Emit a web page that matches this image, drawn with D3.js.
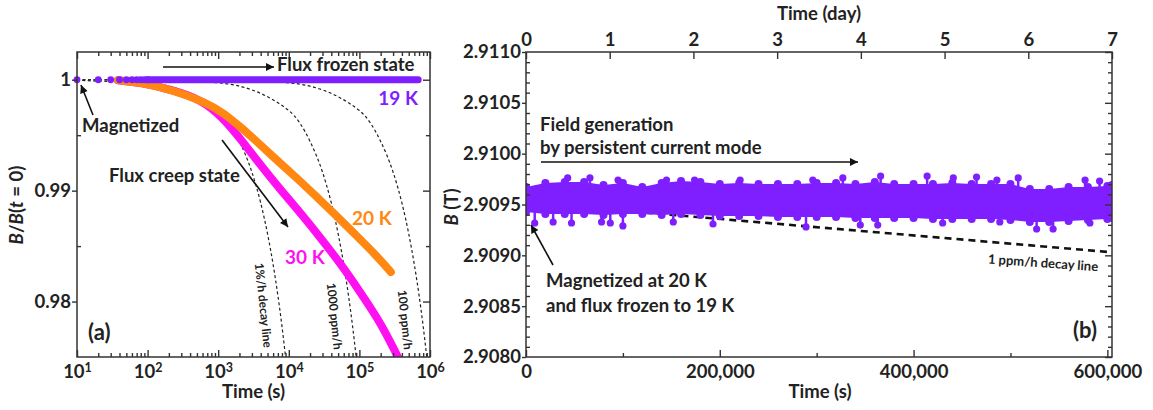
<!DOCTYPE html>
<html>
<head>
<meta charset="utf-8">
<title>Flux creep and persistent field</title>
<script src="https://d3js.org/d3.v7.min.js"></script>
<style>
body {margin: 0; background: #fff;}
svg {font-family: Lato, "Open Sans", sans-serif; font-weight: bold;}
.axis path {display: none;}
.axis line {stroke: #333; stroke-width: 1.4;}
.axis text {font-size: 18.5px; fill: #222; font-family: Lato, sans-serif; font-weight: bold;}
.frame {fill: none; stroke: #333; stroke-width: 1.5;}
</style>
</head>
<body>
<script>
// ---- panel (a) data ----
const decadeTicks = [10, 100, 1000, 10000, 100000, 1000000]
const decadeExp = ["1", "2", "3", "4", "5", "6"]
const ratioTicks = [0.98, 0.99, 1]
const ratioMinor = [0.985, 0.995]

// 19 K, first separate dots then the flat dense run
const k19DotTime = [10, 20, 30, 40, 50, 60, 70, 80, 90, 100]
const k19DotB = [1, 1, 1, 1, 1, 1, 1, 1, 1, 1]
const k19Time = [100, 1000, 10000, 100000, 680000]
const k19B = [1, 1, 1, 1, 1]

const k20Time = [38, 80, 230, 700, 1190, 2070, 3600, 6500, 12500, 24000, 46000, 89000, 171000, 279000]
const k20B = [0.99995, 0.99975, 0.99907, 0.99790, 0.99700, 0.99574, 0.99438, 0.99285, 0.99123, 0.98952, 0.98780, 0.98600, 0.98420, 0.98266]

const k30Time = [38, 80, 230, 560, 1186, 2065, 3970, 7660, 14700, 28300, 54450, 104700, 201400, 350750]
const k30B = [0.99995, 0.99975, 0.99907, 0.99826, 0.99655, 0.99466, 0.99231, 0.99006, 0.98798, 0.98573, 0.98339, 0.98077, 0.97807, 0.97500]

// decay reference lines (1 %/h, 1000 ppm/h, 100 ppm/h)
const decayB = [1, 0.999972, 0.99972, 0.99722, 0.99444, 0.99167, 0.98889, 0.98611, 0.98333, 0.98056, 0.97778, 0.975]
const decay1pTime = [10, 10, 100, 1000, 2000, 3000, 4000, 5000, 6000, 7000, 8000, 9000]
const decay1000Time = [10, 100, 1000, 10000, 20000, 30000, 40000, 50000, 60000, 70000, 80000, 90000]
const decay100Time = [10, 1000, 10000, 100000, 200000, 300000, 400000, 500000, 600000, 700000, 800000, 900000]

// ---- panel (b) data ----
const secTicks = [0, 200000, 400000, 600000]
const secMinor = [100000, 300000, 500000]
const dayTicks = [0, 1, 2, 3, 4, 5, 6, 7]
const fieldTicks = [2.908, 2.9085, 2.909, 2.9095, 2.91, 2.9105, 2.911]
const fieldMinor = [2.9081, 2.9082, 2.9083, 2.9084, 2.9086, 2.9087, 2.9088, 2.9089, 2.9091, 2.9092, 2.9093, 2.9094,
  2.9096, 2.9097, 2.9098, 2.9099, 2.9101, 2.9102, 2.9103, 2.9104, 2.9106, 2.9107, 2.9108, 2.9109]

// band of the measured field: upper and lower edge read every 20,000 s
const bandTime = [0, 20000, 40000, 60000, 80000, 100000, 120000, 140000, 160000, 180000, 200000, 220000, 240000, 260000,
  280000, 300000, 320000, 340000, 360000, 380000, 400000, 420000, 440000, 460000, 480000, 500000, 520000, 540000,
  560000, 580000, 600000, 604800]
const bandHigh = [2.909672, 2.909711, 2.909721, 2.909721, 2.909692, 2.909711, 2.909672, 2.909711, 2.909731, 2.909721,
  2.909702, 2.909711, 2.909702, 2.909702, 2.909702, 2.909711, 2.909711, 2.909702, 2.909721, 2.909702, 2.909702,
  2.909702, 2.909711, 2.909702, 2.909702, 2.909702, 2.909652, 2.909652, 2.909672, 2.909672, 2.909682, 2.909692]
const bandLow = [2.909426, 2.909407, 2.909407, 2.909407, 2.909397, 2.909407, 2.909407, 2.909397, 2.909407, 2.909397,
  2.909387, 2.909387, 2.909387, 2.909377, 2.909377, 2.909377, 2.909377, 2.909367, 2.909367, 2.909367, 2.909367,
  2.909357, 2.909357, 2.909357, 2.909357, 2.909348, 2.909328, 2.909328, 2.909338, 2.909348, 2.909357, 2.909367]
// single points sticking out of the band
const spikeHighTime = [43000, 66000, 95000, 145000, 174000, 221000, 296000, 327000, 366000, 414000, 441000, 465000, 486000, 508000, 577000, 592000]
const spikeHighB = [2.909761, 2.909761, 2.909741, 2.909741, 2.909741, 2.909741, 2.909741, 2.909761, 2.909780, 2.909780, 2.909761, 2.909770, 2.909741, 2.909761, 2.909741, 2.909731]
const spikeLowTime = [9000, 28000, 47000, 78000, 87000, 100000, 152000, 193000, 289000, 345000, 363000, 430000, 489000, 527000, 544000, 582000]
const spikeLowB = [2.909318, 2.909328, 2.909318, 2.909328, 2.909318, 2.909289, 2.909328, 2.909308, 2.909279, 2.909298, 2.909298, 2.909318, 2.909328, 2.909259, 2.909259, 2.909318]

const ppmLineTime = [0, 604800]
const ppmLineB = [2.90952, 2.90903]

const purple = "#7f1fff", orange = "#ff8712", magenta = "#ff10f0"

const svg = d3.select("body").append("svg")
  .attr("width", 1153).attr("height", 410)

const defs = svg.append("defs")
defs.append("marker").attr("id", "ah")
  .attr("viewBox", "0 0 10 10").attr("refX", 10).attr("refY", 5)
  .attr("markerWidth", 12).attr("markerHeight", 8)
  .attr("markerUnits", "userSpaceOnUse").attr("orient", "auto")
  .append("path").attr("d", "M0,0L10,5L0,10z").attr("fill", "#111")

function arrow(x1, y1, x2, y2) {
  svg.append("line").attr("x1", x1).attr("y1", y1).attr("x2", x2).attr("y2", y2)
    .attr("stroke", "#111").attr("stroke-width", 1.6).attr("marker-end", "url(#ah)")
}
function label(x, y, txt, size, color) {
  return svg.append("text").attr("x", x).attr("y", y)
    .attr("font-size", size + "px").attr("fill", color || "#222").text(txt)
}

// ================= panel (a) =================
const L = {left: 77, right: 430, top: 52, bottom: 357}
const xL = d3.scaleLog().domain([10, 1e6]).range([L.left, L.right])
const yL = d3.scaleLinear().domain([0.975, 1.0025]).range([L.bottom, L.top])

defs.append("clipPath").attr("id", "clipA").append("rect")
  .attr("x", L.left).attr("y", L.top).attr("width", L.right - L.left).attr("height", L.bottom - L.top)

const plotA = svg.append("g").attr("clip-path", "url(#clipA)")
const decayLine = d3.line().x(d => xL(d[0])).y(d => yL(d[1])).curve(d3.curveMonotoneX)
const dataLine = d3.line().x(d => xL(d[0])).y(d => yL(d[1])).curve(d3.curveBasis)

;[decay1pTime, decay1000Time, decay100Time].forEach(times => {
  plotA.append("path")
    .attr("d", decayLine(times.map((t, i) => [t, decayB[i]])))
    .attr("fill", "none").attr("stroke", "#222").attr("stroke-width", 1.2)
    .attr("stroke-dasharray", "3,2.5")
})

plotA.append("path").attr("d", dataLine(k30Time.map((t, i) => [t, k30B[i]])))
  .attr("fill", "none").attr("stroke", magenta).attr("stroke-width", 8).attr("stroke-linecap", "round")
plotA.append("path").attr("d", dataLine(k20Time.map((t, i) => [t, k20B[i]])))
  .attr("fill", "none").attr("stroke", orange).attr("stroke-width", 8).attr("stroke-linecap", "round")
plotA.append("path").attr("d", dataLine(k19Time.map((t, i) => [t, k19B[i]])))
  .attr("fill", "none").attr("stroke", purple).attr("stroke-width", 7).attr("stroke-linecap", "round")
svg.append("g").selectAll("circle")
  .data(k19DotTime.map((t, i) => [t, k19DotB[i]]))
  .join("circle")
  .attr("cx", d => xL(d[0])).attr("cy", d => yL(d[1])).attr("r", 3.4).attr("fill", purple)

// axes (a)
const logMinor = []
decadeTicks.slice(0, -1).forEach(d => { for (let m = 2; m <= 9; m++) logMinor.push(d * m) })

const gxA = svg.append("g").attr("class", "axis").attr("transform", `translate(0,${L.bottom})`)
  .call(d3.axisBottom(xL).tickValues(decadeTicks).tickSize(-7).tickSizeOuter(0).tickPadding(8))
gxA.selectAll(".tick text").each(function (d, i) {
  const t = d3.select(this).text(null)
  t.append("tspan").text("10")
  t.append("tspan").attr("dy", "-0.5em").attr("font-size", "12.5px").text(decadeExp[i])
})
svg.append("g").attr("class", "axis").attr("transform", `translate(0,${L.bottom})`)
  .call(d3.axisBottom(xL).tickValues(logMinor).tickSize(-4).tickSizeOuter(0).tickFormat(""))
svg.append("g").attr("class", "axis").attr("transform", `translate(0,${L.top})`)
  .call(d3.axisTop(xL).tickValues(decadeTicks).tickSize(-7).tickSizeOuter(0).tickFormat(""))
svg.append("g").attr("class", "axis").attr("transform", `translate(0,${L.top})`)
  .call(d3.axisTop(xL).tickValues(logMinor).tickSize(-4).tickSizeOuter(0).tickFormat(""))

svg.append("g").attr("class", "axis").attr("transform", `translate(${L.left},0)`)
  .call(d3.axisLeft(yL).tickValues(ratioTicks).tickSize(5).tickSizeOuter(0).tickPadding(1)
    .tickFormat(d => d === 1 ? "1" : d3.format(".2f")(d)))
svg.append("g").attr("class", "axis").attr("transform", `translate(${L.left},0)`)
  .call(d3.axisLeft(yL).tickValues(ratioMinor).tickSize(-4).tickSizeOuter(0).tickFormat(""))
svg.append("g").attr("class", "axis").attr("transform", `translate(${L.right},0)`)
  .call(d3.axisRight(yL).tickValues(ratioTicks).tickSize(-7).tickSizeOuter(0).tickFormat(""))
svg.append("g").attr("class", "axis").attr("transform", `translate(${L.right},0)`)
  .call(d3.axisRight(yL).tickValues(ratioMinor).tickSize(-4).tickSizeOuter(0).tickFormat(""))

svg.append("rect").attr("class", "frame")
  .attr("x", L.left).attr("y", L.top).attr("width", L.right - L.left).attr("height", L.bottom - L.top)

// titles (a)
label((L.left + L.right) / 2, 398, "Time (s)", 18.5).attr("text-anchor", "middle")
const yTitleA = svg.append("text").attr("transform", "translate(23,205) rotate(-90)")
  .attr("text-anchor", "middle").attr("font-size", "18.5px").attr("fill", "#222")
yTitleA.append("tspan").attr("font-style", "italic").text("B")
yTitleA.append("tspan").text("/")
yTitleA.append("tspan").attr("font-style", "italic").text("B")
yTitleA.append("tspan").text("(")
yTitleA.append("tspan").attr("font-style", "italic").text("t")
yTitleA.append("tspan").text(" = 0)")

// annotations (a)
arrow(163, 67, 274, 67)
label(277, 71, "Flux frozen state", 18.5)
label(418, 105, "19 K", 19, purple).attr("text-anchor", "end")
arrow(93, 115, 81, 85)
label(82, 132, "Magnetized", 18.5)
label(109, 182, "Flux creep state", 18.5)
arrow(222, 140, 288, 227)
label(352, 225, "20 K", 19, orange)
label(285, 264, "30 K", 19, magenta)
label(88, 340, "(a)", 22)
;[["1%/h decay line", 259, 263], ["1000 ppm/h", 331, 283], ["100 ppm/h", 402, 290]].forEach(d => {
  svg.append("text").attr("transform", `translate(${d[1]},${d[2]}) rotate(84)`)
    .attr("dy", "0.35em").attr("font-size", "12px").attr("fill", "#222").text(d[0])
})

// ================= panel (b) =================
const R = {left: 526, right: 1112, top: 52, bottom: 357}
const xR = d3.scaleLinear().domain([0, 604800]).range([R.left, R.right])
const xDay = d3.scaleLinear().domain([0, 7]).range([R.left, R.right])
const yR = d3.scaleLinear().domain([2.908, 2.911]).range([R.bottom, R.top])

defs.append("clipPath").attr("id", "clipB").append("rect")
  .attr("x", R.left).attr("y", R.top).attr("width", R.right - R.left).attr("height", R.bottom - R.top)
const plotB = svg.append("g").attr("clip-path", "url(#clipB)")

plotB.append("path")
  .attr("d", d3.line().x(d => xR(d[0])).y(d => yR(d[1]))(ppmLineTime.map((t, i) => [t, ppmLineB[i]])))
  .attr("fill", "none").attr("stroke", "#111").attr("stroke-width", 2.6).attr("stroke-dasharray", "7,5")

const band = bandTime.map((t, i) => ({t: t, hi: bandHigh[i], lo: bandLow[i]}))
const gB = plotB.append("g").attr("fill", purple)
gB.append("path")
  .attr("d", d3.area().x(d => xR(d.t)).y0(d => yR(d.lo)).y1(d => yR(d.hi)).curve(d3.curveLinear)(band))
gB.selectAll("circle.hi").data(band).join("circle").attr("class", "hi")
  .attr("cx", d => xR(d.t)).attr("cy", d => yR(d.hi)).attr("r", 4)
gB.selectAll("circle.lo").data(band).join("circle").attr("class", "lo")
  .attr("cx", d => xR(d.t)).attr("cy", d => yR(d.lo)).attr("r", 4)

const spikes = spikeHighTime.map((t, i) => [t, spikeHighB[i]])
  .concat(spikeLowTime.map((t, i) => [t, spikeLowB[i]]))
gB.selectAll("line").data(spikes).join("line")
  .attr("x1", d => xR(d[0])).attr("x2", d => xR(d[0]))
  .attr("y1", d => yR(d[1])).attr("y2", yR(2.90955))
  .attr("stroke", purple).attr("stroke-width", 2.5)
gB.selectAll("circle.sp").data(spikes).join("circle").attr("class", "sp")
  .attr("cx", d => xR(d[0])).attr("cy", d => yR(d[1])).attr("r", 3.6)

// axes (b)
svg.append("g").attr("class", "axis").attr("transform", `translate(0,${R.bottom})`)
  .call(d3.axisBottom(xR).tickValues(secTicks).tickSize(-7).tickSizeOuter(0).tickPadding(8)
    .tickFormat(d3.format(",")))
svg.append("g").attr("class", "axis").attr("transform", `translate(0,${R.bottom})`)
  .call(d3.axisBottom(xR).tickValues(secMinor).tickSize(-4).tickSizeOuter(0).tickFormat(""))
svg.append("g").attr("class", "axis").attr("transform", `translate(0,${R.top})`)
  .call(d3.axisTop(xDay).tickValues(dayTicks).tickSize(-7).tickSizeOuter(0).tickPadding(6)
    .tickFormat(d3.format("d")))
svg.append("g").attr("class", "axis").attr("transform", `translate(${R.left},0)`)
  .call(d3.axisLeft(yR).tickValues(fieldTicks).tickSize(4).tickSizeOuter(0).tickPadding(1)
    .tickFormat(d3.format(".4f")))
svg.append("g").attr("class", "axis").attr("transform", `translate(${R.left},0)`)
  .call(d3.axisLeft(yR).tickValues(fieldMinor).tickSize(-4).tickSizeOuter(0).tickFormat(""))
svg.append("g").attr("class", "axis").attr("transform", `translate(${R.right},0)`)
  .call(d3.axisRight(yR).tickValues(fieldTicks).tickSize(-7).tickSizeOuter(0).tickFormat(""))
svg.append("g").attr("class", "axis").attr("transform", `translate(${R.right},0)`)
  .call(d3.axisRight(yR).tickValues(fieldMinor).tickSize(-4).tickSizeOuter(0).tickFormat(""))

svg.append("rect").attr("class", "frame")
  .attr("x", R.left).attr("y", R.top).attr("width", R.right - R.left).attr("height", R.bottom - R.top)

// titles (b)
label(820, 398, "Time (s)", 18.5).attr("text-anchor", "middle")
label(819, 20, "Time (day)", 18.5).attr("text-anchor", "middle")
const yTitleB = svg.append("text").attr("transform", "translate(458,207) rotate(-90)")
  .attr("text-anchor", "middle").attr("font-size", "18.5px").attr("fill", "#222")
yTitleB.append("tspan").attr("font-style", "italic").text("B")
yTitleB.append("tspan").text(" (T)")

// annotations (b)
label(540, 131, "Field generation", 18.5)
label(540, 154, "by persistent current mode", 18.5)
arrow(541, 162, 858, 162)
arrow(553, 265, 531, 225)
label(546, 287, "Magnetized at 20 K", 18.5)
label(546, 312, "and flux frozen to 19 K", 18.5)
label(1073, 338, "(b)", 22)
svg.append("text").attr("transform", "translate(988,259) rotate(4)")
  .attr("dy", "0.35em").attr("font-size", "13px").attr("fill", "#222").text("1 ppm/h decay line")
</script>
</body>
</html>
